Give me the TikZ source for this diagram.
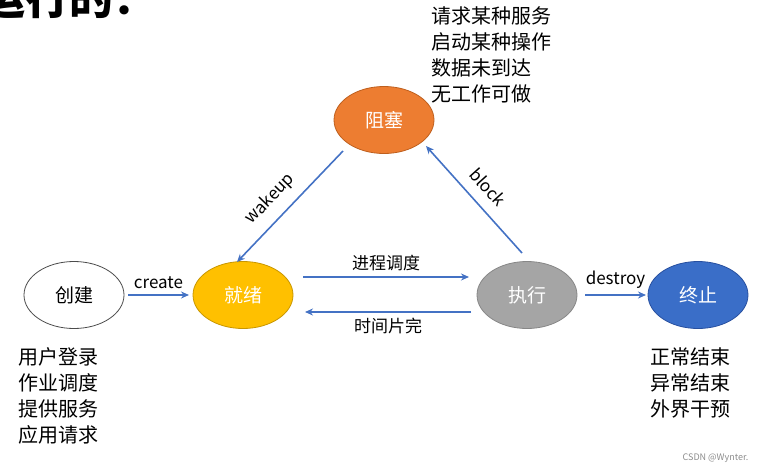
\documentclass[tikz,border=0pt]{standalone}
\usepackage{fontspec}
\setmainfont{Noto Sans CJK SC}
\usetikzlibrary{shapes.geometric,arrows.meta}
\definecolor{ac}{HTML}{4472C4}
\begin{document}
\begin{tikzpicture}[x=1pt,y=-1pt,
  st/.style={ellipse,minimum width=100pt,minimum height=67pt,draw,line width=0.8pt,font=\fontsize{19}{22}\selectfont},
  ar/.style={-{Stealth[length=8pt,width=7pt]},draw=ac,line width=1.6pt},
  lb/.style={font=\fontsize{17}{20}\selectfont},
  tx/.style={font=\fontsize{20}{26}\selectfont,align=left,inner sep=0pt}]
\useasboundingbox (0,0) rectangle (765,474);
\begin{scope}
\clip (0,0) rectangle (765,474);
\node[anchor=base east,font=\fontsize{44}{44}\selectfont\bfseries,inner sep=0pt] (ttl) at (158,14) {运行的：};
\end{scope}
\node[st,fill=white,draw=black!70] (c) at (74,295) {创建};
\node[st,fill={rgb,255:red,255;green,192;blue,0},draw={rgb,255:red,200;green,150;blue,0},text=white] (r) at (243,295) {就绪};
\node[st,fill={rgb,255:red,165;green,165;blue,165},draw={rgb,255:red,135;green,135;blue,135},text=white] (e) at (527,295) {执行};
\node[st,fill={rgb,255:red,58;green,110;blue,200},draw={rgb,255:red,40;green,80;blue,160},text=white] (t) at (698,295) {终止};
\node[st,fill={rgb,255:red,237;green,125;blue,49},draw={rgb,255:red,190;green,95;blue,30},text=white] (b) at (384,120) {阻塞};
\coordinate (c1) at (128,295); \coordinate (c2) at (189,295);
\draw[ar] (c1) -- (c2) node[lb,midway,above=2pt] (lc) {create};
\coordinate (p1) at (303,277); \coordinate (p2) at (469,277);
\draw[ar] (p1) -- (p2) node[lb,midway,above=2pt] (lp) {进程调度};
\coordinate (q1) at (471,312); \coordinate (q2) at (305,312);
\draw[ar] (q1) -- (q2) node[lb,midway,below=2pt] (lq) {时间片完};
\coordinate (d1) at (585,295); \coordinate (d2) at (646,295);
\draw[ar] (d1) -- (d2) node[lb,midway,above=2pt] (ld) {destroy};
\coordinate (w1) at (343,151); \coordinate (w2) at (237,262);
\draw[ar] (w1) -- (w2);
\node[lb,rotate=46,inner sep=1pt] (lw) at (270,199) {wakeup};
\coordinate (k1) at (522,253); \coordinate (k2) at (426,146);
\draw[ar] (k1) -- (k2);
\node[lb,rotate=-48,inner sep=1pt] (lk) at (488,187) {block};
\node[tx,anchor=north west] (top) at (431,6) {请求某种服务\\启动某种操作\\数据未到达\\无工作可做};
\node[tx,anchor=north west] (bl) at (18,347) {用户登录\\作业调度\\提供服务\\应用请求};
\node[tx,anchor=north west] (br) at (650,347) {正常结束\\异常结束\\外界干预};
\node[font=\fontsize{9}{10}\selectfont,text=black!45,anchor=east] (wm) at (752,458) {CSDN @Wynter.};
\end{tikzpicture}
\end{document}
